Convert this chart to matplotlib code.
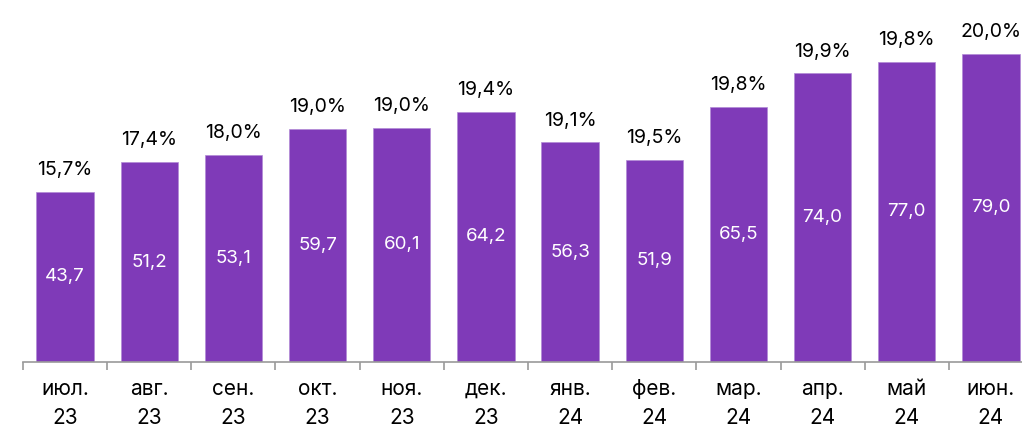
import numpy as np
import matplotlib.pyplot as plt

plt.rcParams['font.family'] = ['Inter', 'DejaVu Sans']

months = ['июл.\n23', 'авг.\n23', 'сен.\n23', 'окт.\n23', 'ноя.\n23', 'дек.\n23',
          'янв.\n24', 'фев.\n24', 'мар.\n24', 'апр.\n24', 'май\n24', 'июн.\n24']
values = [43.7, 51.2, 53.1, 59.7, 60.1, 64.2, 56.3, 51.9, 65.5, 74.0, 77.0, 79.0]
shares = [15.7, 17.4, 18.0, 19.0, 19.0, 19.4, 19.1, 19.5, 19.8, 19.9, 19.8, 20.0]

def fmt(v):
    return f'{v:.1f}'.replace('.', ',')

fig = plt.figure(figsize=(10.22, 4.28), dpi=100)
ax = fig.add_axes([23/1022, 66/428, 1010/1022, 351/428])

x = np.arange(len(values))
bars = ax.bar(x, values, width=0.68, color='#7f3ab8', edgecolor='#b28ad6', linewidth=0.5)

for xi, v, s in zip(x, values, shares):
    ax.text(xi, v / 2, fmt(v), ha='center', va='center', color='white', fontsize=13.5)
    ax.text(xi, v + 3.3, fmt(s) + '%', ha='center', va='bottom', color='black', fontsize=14)

ax.set_xlim(-0.5, len(values) - 0.5)
ax.set_ylim(0, 90)
ax.set_xticks(x)
ax.set_xticklabels(months, fontsize=15, linespacing=1.6)
ax.set_xticks(np.arange(len(values) + 1) - 0.5, minor=True)
ax.tick_params(axis='x', which='major', length=0, pad=12)
ax.tick_params(axis='x', which='minor', length=6, color='#9a9a9a', width=1.2)
ax.set_yticks([])
for side in ['top', 'right', 'left']:
    ax.spines[side].set_visible(False)
ax.spines['bottom'].set_color('#9a9a9a')
ax.spines['bottom'].set_linewidth(1.2)

fig.savefig('out.png', dpi=100)
